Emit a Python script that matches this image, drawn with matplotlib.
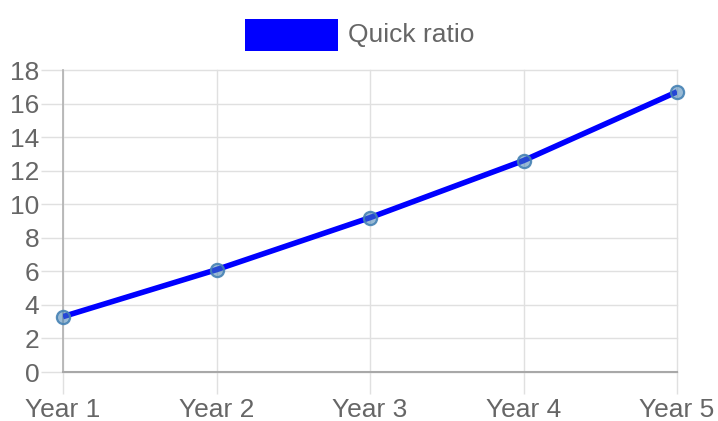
import matplotlib
matplotlib.use("Agg")
import matplotlib.pyplot as plt
from matplotlib.patches import Rectangle

categories = ["Year 1", "Year 2", "Year 3", "Year 4", "Year 5"]
quick_ratio = [3.3, 6.1, 9.2, 12.6, 16.7]
y_ticks = [0, 2, 4, 6, 8, 10, 12, 14, 16, 18]
series_name = "Quick ratio"

plt.rcParams['font.family'] = ['Liberation Sans', 'DejaVu Sans']

fig = plt.figure(figsize=(7.18, 4.21), dpi=100)
ax = fig.add_axes([63/718, (421-372)/421, (677-63)/718, (372-70)/421])

x = list(range(len(categories)))
ax.plot(x, quick_ratio, color='#0000ff', lw=4, solid_capstyle='butt', zorder=3)
ax.plot(x, quick_ratio, ls='none', marker='o', ms=9.5, mfc=(70/255, 130/255, 180/255, 0.55),
        mec=(70/255, 130/255, 180/255, 0.9), mew=1.6, zorder=4, clip_on=False)

ax.set_xlim(0, len(categories) - 1)
ax.set_ylim(0, 18)
ax.set_yticks(y_ticks)
ax.set_xticks(x)
ax.set_xticklabels(categories)

grid_c = '#e0e0e0'
ax.grid(True, color=grid_c, lw=1)
for gl in ax.get_xgridlines() + ax.get_ygridlines():
    gl.set_clip_on(False)
ax.set_axisbelow(True)
for s in ['top', 'right']:
    ax.spines[s].set_visible(False)
ax.spines['left'].set_color('#b0b0b0')
ax.spines['bottom'].set_color('#a8a8a8')
ax.spines['left'].set_linewidth(1.2)
ax.spines['bottom'].set_linewidth(1.5)

ax.tick_params(axis='both', length=16, color=grid_c, width=1, labelcolor='#666666', labelsize=19)
ax.tick_params(axis='y', pad=1)
ax.tick_params(axis='x', pad=3)

# legend
fig.patches.append(Rectangle((245/718, 1-51/421), 93/718, 32/421, transform=fig.transFigure,
                             facecolor='#0000ff', edgecolor='none'))
fig.text(348/718, 1-35/421, series_name, color='#666666', fontsize=19, va='center', ha='left')

fig.savefig('out.png', dpi=100)
